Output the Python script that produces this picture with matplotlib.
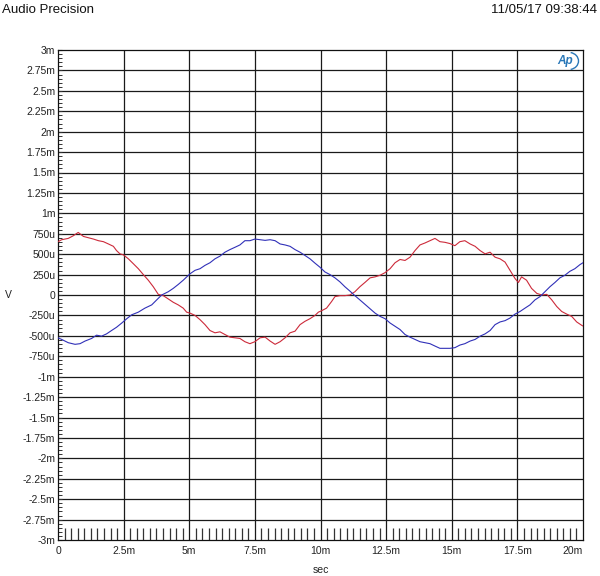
import matplotlib
matplotlib.use("Agg")
import matplotlib.pyplot as plt
from matplotlib.patches import Arc
from matplotlib.ticker import MultipleLocator

plt.rcParams['font.family'] = ['Liberation Sans', 'DejaVu Sans']

# time in ms, level in uV
red_t = [0.00, 0.14, 0.39, 0.58, 0.77, 0.97, 1.16, 1.35, 1.54, 1.73, 1.92, 2.11, 2.23, 2.36,
         2.49, 2.68, 2.87, 3.06, 3.25, 3.44, 3.63, 3.82, 4.01, 4.20, 4.39, 4.58, 4.77, 4.90,
         5.03, 5.22, 5.41, 5.60, 5.79, 5.98, 6.17, 6.36, 6.55, 6.74, 6.93, 7.12, 7.31, 7.50,
         7.70, 7.89, 8.08, 8.27, 8.46, 8.65, 8.84, 9.03, 9.22, 9.41, 9.60, 9.79, 9.92, 10.04,
         10.23, 10.42, 10.55, 10.74, 10.93, 11.12, 11.31, 11.50, 11.69, 11.89, 12.08, 12.27,
         12.46, 12.65, 12.84, 13.03, 13.22, 13.41, 13.60, 13.79, 13.98, 14.17, 14.36, 14.55,
         14.74, 14.93, 15.12, 15.31, 15.50, 15.70, 15.89, 16.08, 16.27, 16.46, 16.65, 16.84,
         17.03, 17.22, 17.41, 17.54, 17.66, 17.85, 18.04, 18.24, 18.43, 18.62, 18.81, 19.00,
         19.19, 19.38, 19.57, 19.76, 19.95, 20.00]
red_v = [653, 677, 693, 725, 766, 717, 701, 685, 665, 653, 625, 596, 544, 504,
         492, 443, 383, 322, 250, 181, 101, 8, -8, -48, -89, -121, -161, -210,
         -222, -250, -302, -363, -435, -463, -451, -484, -516, -524, -532, -572, -596, -572,
         -524, -516, -564, -604, -572, -524, -463, -443, -363, -322, -290, -250, -210, -193,
         -161, -81, -20, -8, -8, 0, 40, 101, 153, 210, 222, 242,
         274, 322, 395, 435, 423, 463, 544, 613, 637, 665, 693, 653,
         645, 630, 604, 653, 665, 625, 596, 544, 504, 524, 463, 443,
         403, 302, 202, 153, 222, 181, 81, 20, 0, 8, -60, -141,
         -202, -234, -262, -330, -371, -380]

blue_t = [0.00, 0.14, 0.39, 0.65, 0.84, 1.03, 1.28, 1.47, 1.66, 1.85, 2.04, 2.23, 2.43, 2.62,
          2.81, 3.06, 3.31, 3.57, 3.76, 3.95, 4.20, 4.39, 4.58, 4.77, 5.03, 5.22, 5.41, 5.60,
          5.79, 5.98, 6.17, 6.36, 6.55, 6.74, 6.93, 7.12, 7.31, 7.50, 7.70, 7.89, 8.08, 8.27,
          8.46, 8.65, 8.84, 9.03, 9.22, 9.41, 9.60, 9.79, 9.98, 10.17, 10.36, 10.55, 10.74,
          10.93, 11.12, 11.31, 11.50, 11.69, 11.89, 12.08, 12.27, 12.46, 12.65, 12.84, 13.03,
          13.22, 13.41, 13.60, 13.79, 13.98, 14.17, 14.36, 14.55, 14.74, 14.93, 15.12, 15.31,
          15.50, 15.70, 15.89, 16.08, 16.27, 16.46, 16.65, 16.84, 17.03, 17.22, 17.41, 17.60,
          17.79, 17.98, 18.17, 18.36, 18.55, 18.74, 18.93, 19.12, 19.31, 19.50, 19.69, 19.88,
          20.00]
blue_v = [-524, -544, -584, -604, -596, -564, -532, -492, -504, -476, -435, -395, -343, -290,
          -242, -210, -161, -121, -60, 0, 40, 81, 129, 181, 260, 302, 322, 363,
          395, 443, 476, 524, 556, 584, 613, 665, 665, 685, 677, 669, 677, 665,
          625, 613, 596, 556, 524, 484, 443, 390, 340, 282, 250, 210, 161,
          101, 48, -8, -60, -113, -169, -222, -262, -290, -343, -383, -423,
          -484, -516, -544, -572, -584, -596, -625, -653, -653, -653, -645, -613,
          -596, -564, -544, -504, -476, -435, -363, -330, -314, -282, -234, -202,
          -161, -121, -60, -20, 40, 101, 153, 210, 242, 290, 322, 371,
          395]

x_ticks = [0, 2.5, 5, 7.5, 10, 12.5, 15, 17.5, 20]
x_labels = ["0", "2.5m", "5m", "7.5m", "10m", "12.5m", "15m", "17.5m", "20m"]
y_ticks = [3000, 2750, 2500, 2250, 2000, 1750, 1500, 1250, 1000, 750, 500, 250, 0,
           -250, -500, -750, -1000, -1250, -1500, -1750, -2000, -2250, -2500, -2750, -3000]
y_labels = ["3m", "2.75m", "2.5m", "2.25m", "2m", "1.75m", "1.5m", "1.25m", "1m", "750u",
            "500u", "250u", "0", "-250u", "-500u", "-750u", "-1m", "-1.25m", "-1.5m",
            "-1.75m", "-2m", "-2.25m", "-2.5m", "-2.75m", "-3m"]

fig = plt.figure(figsize=(6.0, 5.76), dpi=100)
ax = fig.add_axes([58/600, 1-540/576, 525/600, 490/576])

gridc = '#1a1a1a'
for xv in x_ticks[1:-1]:
    ax.axvline(xv, color=gridc, lw=0.9, zorder=1)
for yv in y_ticks[1:-1]:
    ax.axhline(yv, color=gridc, lw=0.9, zorder=1)

ax.plot(red_t, red_v, color='#cc2a3a', lw=0.8, zorder=3)
ax.plot(blue_t, blue_v, color='#3030b8', lw=0.8, zorder=3)

ax.set_xlim(0, 20)
ax.set_ylim(-3000, 3000)

ax.set_xticks(x_ticks)
ax.set_xticklabels(x_labels)
ax.set_yticks(y_ticks)
ax.set_yticklabels(y_labels)
ax.xaxis.set_minor_locator(MultipleLocator(0.25))
ax.yaxis.set_minor_locator(MultipleLocator(50))

ax.tick_params(axis='x', which='major', length=0, pad=4, labelsize=7.5, labelcolor='#222222')
ax.tick_params(axis='x', which='minor', direction='in', length=8.5, width=0.9, color='#333333')
ax.tick_params(axis='y', which='major', direction='in', length=3, width=0.8, pad=2,
               labelsize=7.5, labelcolor='#222222', color='#333333')
ax.tick_params(axis='y', which='minor', direction='in', length=3, width=0.7, color='#333333')

labs = ax.get_xticklabels()
labs[-1].set_horizontalalignment('right')

for s in ax.spines.values():
    s.set_color('#111111')
    s.set_linewidth(0.9)

ax.set_xlabel('sec', fontsize=7.5, color='#222222', labelpad=7)
ax.set_ylabel('V', fontsize=7.5, color='#222222', rotation=0, va='center', labelpad=14)
ax.yaxis.set_label_coords(-50/525, 0.5)

fig.text(2/600, 1-10/576, 'Audio Precision', fontsize=9.5, color='#111111', va='center', ha='left')
fig.text(597/600, 1-10/576, '11/05/17 09:38:44', fontsize=9.5, color='#111111', va='center', ha='right')

# logo
fig.text(565/600, 1-61/576, 'Ap', fontsize=8.5, color='#2a78b8', style='italic',
         fontweight='bold', va='center', ha='center')
logo_ax = fig.add_axes([560/600, 1-70/576, 20/600, 18/576])
logo_ax.set_xlim(0, 1)
logo_ax.set_ylim(0, 1)
logo_ax.axis('off')
logo_ax.add_patch(Arc((0.45, 0.5), 0.95, 0.95, theta1=-80, theta2=80, color='#2a78b8', lw=1.0))

fig.savefig('out.png', dpi=100)
